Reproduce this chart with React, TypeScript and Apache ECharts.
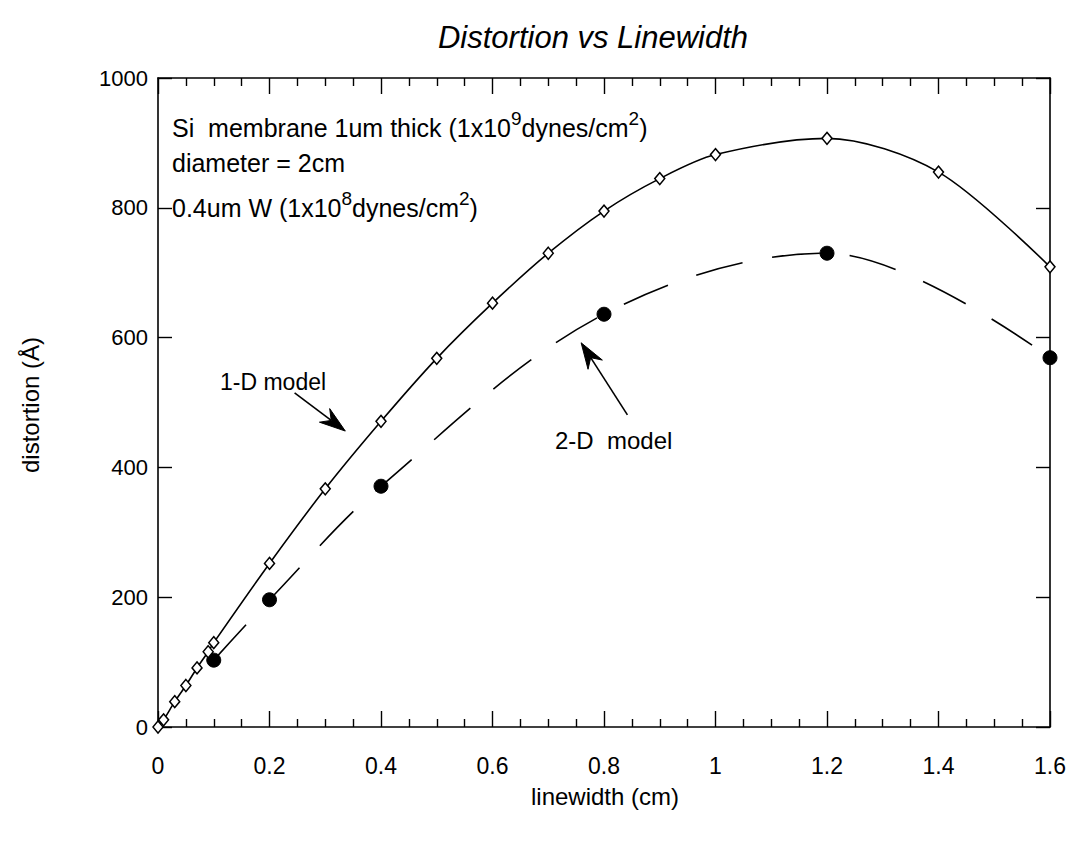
import React, { useEffect, useRef } from "react";
import * as echarts from "echarts";

const oneDX = [0, 0.01, 0.03, 0.05, 0.07, 0.09, 0.1, 0.2, 0.3, 0.4, 0.5, 0.6, 0.7, 0.8, 0.9, 1.0, 1.2, 1.4, 1.6];
const oneDY = [0, 11, 39, 64, 91, 116, 130, 252, 367, 471, 568, 653, 730, 795, 845, 882, 907, 855, 709];
const twoDX = [0.1, 0.2, 0.4, 0.8, 1.2, 1.6];
const twoDY = [103, 196, 371, 636, 730, 569];
const xTickLabels = ["0", "0.2", "0.4", "0.6", "0.8", "1", "1.2", "1.4", "1.6"];
const yTickLabels = ["0", "200", "400", "600", "800", "1000"];
const arrow1D = [[0.245, 515], [0.336, 456]];
const arrow2D = [[0.842, 481], [0.759, 592]];

const FONT = "Liberation Sans, Arial, Helvetica, sans-serif";

export default function App() {
  const ref = useRef<HTMLDivElement>(null);
  useEffect(() => {
    if (!ref.current) return;
    const chart = echarts.init(ref.current, undefined, { renderer: "svg" });
    const axisLine = { show: true, onZero: false, lineStyle: { color: "#000", width: 1.6 } };
    const tick = (len: number) => ({ show: true, inside: true, length: len, lineStyle: { color: "#000", width: 1.4 } });
    const minor = { show: true, splitNumber: 4, length: 8, lineStyle: { color: "#000", width: 1.4 } };
    const supRich = { sup: { fontSize: 19, verticalAlign: "top", lineHeight: 19, fontFamily: FONT } };
    const texts: any[] = [
      {
        type: "text",
        left: 172,
        top: 109,
        style: {
          text: "Si  membrane 1um thick (1x10{sup|9}dynes/cm{sup|2})",
          fontFamily: FONT,
          fontSize: 25,
          lineHeight: 38,
          fill: "#000",
          rich: supRich,
        },
      },
      {
        type: "text",
        left: 172,
        top: 150,
        style: { text: "diameter = 2cm", fontFamily: FONT, fontSize: 25, fill: "#000" },
      },
      {
        type: "text",
        left: 172,
        top: 189,
        style: {
          text: "0.4um W (1x10{sup|8}dynes/cm{sup|2})",
          fontFamily: FONT,
          fontSize: 25,
          lineHeight: 38,
          fill: "#000",
          rich: supRich,
        },
      },
      {
        type: "text",
        left: 220,
        top: 370,
        style: { text: "1-D model", fontFamily: FONT, fontSize: 23, fill: "#000" },
      },
      {
        type: "text",
        left: 555,
        top: 428,
        style: { text: "2-D  model", fontFamily: FONT, fontSize: 24, fill: "#000" },
      },
      {
        type: "text",
        x: 605,
        y: 796,
        style: {
          text: "linewidth (cm)",
          fontFamily: FONT,
          fontSize: 24,
          fill: "#000",
          align: "center",
          verticalAlign: "middle",
        },
      },
      {
        type: "text",
        x: 30,
        y: 405,
        rotation: Math.PI / 2,
        style: {
          text: "distortion (Å)",
          fontFamily: FONT,
          fontSize: 24,
          fill: "#000",
          align: "center",
          verticalAlign: "middle",
        },
      },
    ];
    chart.setOption({
      animation: false,
      backgroundColor: "#fff",
      title: {
        text: "Distortion vs Linewidth",
        left: 588,
        textAlign: "center",
        top: 17,
        textStyle: { fontFamily: FONT, fontStyle: "italic", fontWeight: "normal", fontSize: 31, color: "#000" },
      },
      grid: { left: 158, right: 27, top: 78, bottom: 114, containLabel: false },
      xAxis: [
        {
          type: "value",
          position: "bottom",
          min: 0,
          max: 1.6,
          interval: 0.2,
          splitLine: { show: false },
          axisLine,
          axisTick: tick(16),
          minorTick: minor,
          axisLabel: {
            margin: 27,
            fontFamily: FONT,
            fontSize: 23,
            color: "#000",
            formatter: (v: number) => xTickLabels[Math.round(v / 0.2)] ?? "",
          },
        },
        {
          type: "value",
          position: "top",
          min: 0,
          max: 1.6,
          interval: 0.2,
          splitLine: { show: false },
          axisLine,
          axisTick: tick(16),
          minorTick: minor,
          axisLabel: { show: false },
        },
      ],
      yAxis: [
        {
          type: "value",
          position: "left",
          min: 0,
          max: 1000,
          interval: 200,
          splitLine: { show: false },
          axisLine,
          axisTick: tick(14),
          axisLabel: {
            margin: 10,
            fontFamily: FONT,
            fontSize: 22,
            color: "#000",
            formatter: (v: number) => yTickLabels[Math.round(v / 200)] ?? "",
          },
        },
        {
          type: "value",
          position: "right",
          min: 0,
          max: 1000,
          interval: 200,
          splitLine: { show: false },
          axisLine,
          axisTick: tick(14),
          axisLabel: { show: false },
        },
      ],
      series: [
        {
          name: "1-D model",
          type: "line",
          xAxisIndex: 0,
          yAxisIndex: 0,
          data: oneDX.map((x, i) => [x, oneDY[i]]),
          smooth: 0.3,
          symbol: "diamond",
          symbolSize: [10, 12],
          showAllSymbol: true,
          itemStyle: { color: "#fff", borderColor: "#000", borderWidth: 1.5 },
          lineStyle: { color: "#000", width: 1.6 },
          z: 3,
          silent: true,
        },
        {
          name: "2-D model",
          type: "line",
          xAxisIndex: 0,
          yAxisIndex: 0,
          data: twoDX.map((x, i) => [x, twoDY[i]]),
          smooth: 0.35,
          symbol: "circle",
          symbolSize: 14,
          itemStyle: { color: "#000", borderColor: "#000" },
          lineStyle: { color: "#000", width: 1.6, type: [48, 30] },
          z: 2,
          silent: true,
        },
      ],
      graphic: texts,
    });

    const arrowEls: any[] = [];
    [arrow1D, arrow2D].forEach((a) => {
      const p0 = chart.convertToPixel({ xAxisIndex: 0, yAxisIndex: 0 }, a[0]) as number[];
      const p1 = chart.convertToPixel({ xAxisIndex: 0, yAxisIndex: 0 }, a[1]) as number[];
      const dx = p1[0] - p0[0];
      const dy = p1[1] - p0[1];
      const len = Math.sqrt(dx * dx + dy * dy) || 1;
      const ux = dx / len;
      const uy = dy / len;
      const nx = -uy;
      const ny = ux;
      const L = 26;
      const W = 8.5;
      const back = 0.68 * L;
      arrowEls.push({
        type: "line",
        shape: { x1: p0[0], y1: p0[1], x2: p1[0] - ux * back, y2: p1[1] - uy * back },
        style: { stroke: "#000", lineWidth: 1.6 },
        silent: true,
      });
      arrowEls.push({
        type: "polygon",
        shape: {
          points: [
            [p1[0], p1[1]],
            [p1[0] - ux * L + nx * W, p1[1] - uy * L + ny * W],
            [p1[0] - ux * back, p1[1] - uy * back],
            [p1[0] - ux * L - nx * W, p1[1] - uy * L - ny * W],
          ],
        },
        style: { fill: "#000", stroke: "#000", lineWidth: 1 },
        silent: true,
      });
    });
    chart.setOption({ graphic: [...texts, ...arrowEls] });

    return () => chart.dispose();
  }, []);
  return (
    <div
      ref={ref}
      style={{ position: "fixed", left: 0, top: 0, width: 1077, height: 841, background: "#fff" }}
    />
  );
}
